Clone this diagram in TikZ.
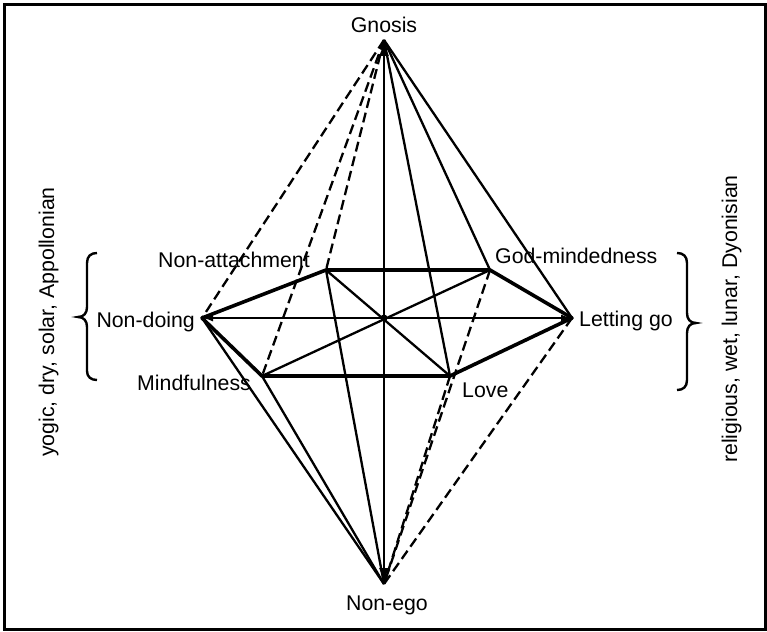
\documentclass[tikz,border=0pt]{standalone}
\usepackage{fontspec}
\setmainfont{Liberation Sans}
\usetikzlibrary{arrows.meta}
\begin{document}
\begin{tikzpicture}[x=1pt,y=-1pt,
  lbl/.style={inner sep=0pt, font=\fontsize{21.3}{25}\selectfont},
  thinln/.style={line width=2.3pt},
  thickln/.style={line width=3.6pt, line join=round},
  dashln/.style={line width=2.3pt, dash pattern=on 10pt off 5pt},
  brc/.style={line width=2.4pt},
  bigtip/.style={-{Latex[length=16pt,width=10pt]}},
  smalltip/.style={{Latex[length=11pt,width=7pt]}-{Latex[length=11pt,width=7pt]}}]
\useasboundingbox (0,0) rectangle (767,631);
\draw[line width=3pt] (4,5) rectangle (765,629);

% vertices
\coordinate (G) at (384,40);
\coordinate (E) at (384,584);
\coordinate (N) at (202,318);
\coordinate (L) at (572,318);
\coordinate (A) at (326,270);
\coordinate (M) at (490,270);
\coordinate (F) at (262,376);
\coordinate (V) at (450,376);
\coordinate (C) at (384,318);

% labels
\node[lbl, anchor=base] (lg) at (384,33) {Gnosis};
\node[lbl, anchor=base] (le) at (387,610) {Non-ego};
\node[lbl, anchor=base west] (la) at (158,267) {Non-attachment};
\node[lbl, anchor=base east] (ln) at (195,327) {Non-doing};
\node[lbl, anchor=base west] (lf) at (137,390) {Mindfulness};
\node[lbl, anchor=base west] (lm) at (495,263) {God-mindedness};
\node[lbl, anchor=base west] (ll) at (579,326) {Letting go};
\node[lbl, anchor=base west] (lv) at (462,397) {Love};
\node[lbl, anchor=base, rotate=90] (sl) at (54,322) {yogic, dry, solar, Appollonian};
\node[lbl, anchor=base, rotate=90] (sr) at (737,319) {religious, wet, lunar, Dyonisian};

% dashed lines
\draw[dashln] (G) -- (N);
\draw[dashln] (G) -- (A);
\draw[dashln] (G) -- (F);
\draw[dashln] (M) -- (E);
\draw[dashln] (V) -- (E);
\draw[dashln] (L) -- (E);

% thin lines
\draw[thinln] (A) -- (V);
\draw[thinln] (M) -- (F);
\draw[thinln] (G) -- (V);
\draw[thinln] (G) -- (M);
\draw[thinln] (G) -- (L);
\draw[thinln] (A) -- (E);
\draw[thinln] (N) -- (E);
\draw[thinln] (F) -- (E);
\draw[thinln, smalltip] (N) -- (L);
\draw[thinln, bigtip] (C) -- (G);
\draw[thinln, bigtip] (C) -- (E);

% hexagon
\draw[thickln] (N) -- (A) -- (M) -- (L) -- (V) -- (F) -- cycle;
\fill (C) circle (3.5pt);

% braces
\draw[brc] (97,253) .. controls (91,253) and (87,256) .. (87,263) -- (87,307)
  .. controls (87,313) and (84,317) .. (78,317)
  .. controls (84,317) and (87,321) .. (87,327) -- (87,371)
  .. controls (87,377) and (91,380) .. (97,380);
\draw[brc] (677,253) .. controls (683,253) and (687,256) .. (687,263) -- (687,313)
  .. controls (687,319) and (690,323) .. (696,323)
  .. controls (690,323) and (687,327) .. (687,333) -- (687,380)
  .. controls (687,387) and (683,390) .. (677,390);
\end{tikzpicture}
\end{document}
